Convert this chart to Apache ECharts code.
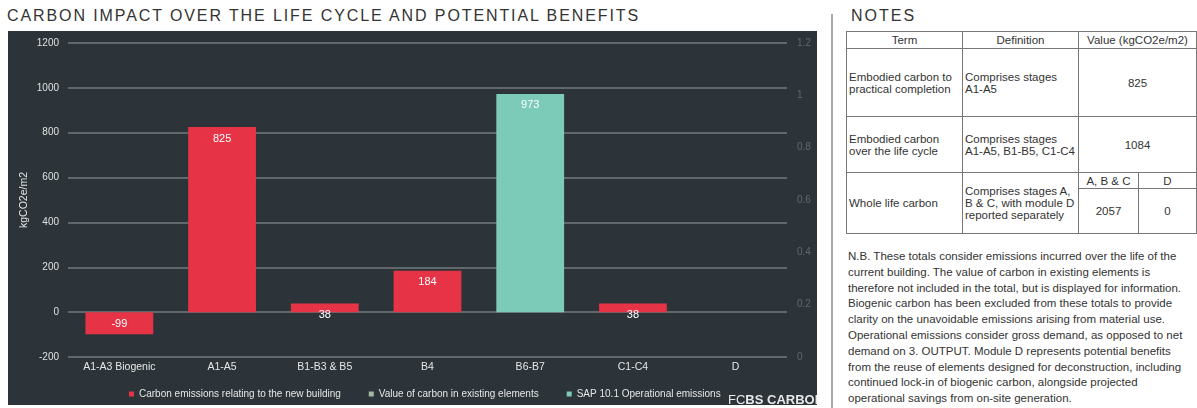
<!DOCTYPE html>
<html>
<head>
<meta charset="utf-8">
<script src="https://cdn.jsdelivr.net/npm/echarts@6/dist/echarts.min.js"></script>
<style>
  body { margin: 0; background: #fff; font-family: Arial, "Liberation Sans", sans-serif; color: #333; }
  #wrap { position: relative; width: 1197px; height: 408px; overflow: hidden; }
  #title { position: absolute; left: 7px; top: 7px; font-size: 16px; letter-spacing: 1.9px; color: #333; white-space: nowrap; }
  #chart { position: absolute; left: 8px; top: 31px; width: 809px; height: 374px; }
  #sep { position: absolute; left: 831px; top: 14px; width: 2px; height: 394px; background: #aaa; }
  #notes-title { position: absolute; left: 851px; top: 7px; font-size: 16px; letter-spacing: 2px; color: #333; }
  #notes { position: absolute; left: 846px; top: 31px; border-collapse: collapse; font-size: 11.5px; color: #333; }
  #notes td { border: 1px solid #777; padding: 0 2px; vertical-align: middle; }
  #nb { position: absolute; left: 848px; top: 249px; font-size: 11.5px; line-height: 15.8px; color: #333; white-space: nowrap; }
</style>
</head>
<body>
<div id="wrap">
  <div id="title">CARBON IMPACT OVER THE LIFE CYCLE AND POTENTIAL BENEFITS</div>
  <div id="chart"></div>
  <div id="sep"></div>
  <div id="notes-title">NOTES</div>
  <table id="notes">
    <tr style="height:17px"><td style="width:111px;text-align:center">Term</td><td style="width:111px;text-align:center">Definition</td><td colspan="2" style="width:112px;text-align:center">Value (kgCO2e/m2)</td></tr>
    <tr style="height:68px"><td>Embodied carbon to<br>practical completion</td><td>Comprises stages<br>A1-A5</td><td colspan="2" style="text-align:center">825</td></tr>
    <tr style="height:56px"><td>Embodied carbon<br>over the life cycle</td><td>Comprises stages<br>A1-A5, B1-B5, C1-C4</td><td colspan="2" style="text-align:center">1084</td></tr>
    <tr style="height:16px"><td rowspan="2">Whole life carbon</td><td rowspan="2">Comprises stages A,<br>B &amp; C, with module D<br>reported separately</td><td style="width:55px;text-align:center">A, B &amp; C</td><td style="width:53px;text-align:center">D</td></tr>
    <tr style="height:45px"><td style="text-align:center">2057</td><td style="text-align:center">0</td></tr>
  </table>
  <div id="nb">N.B. These totals consider emissions incurred over the life of the<br>current building. The value of carbon in existing elements is<br>therefore not included in the total, but is displayed for information.<br>Biogenic carbon has been excluded from these totals to provide<br>clarity on the unavoidable emissions arising from material use.<br>Operational emissions consider gross demand, as opposed to net<br>demand on 3. OUTPUT. Module D represents potential benefits<br>from the reuse of elements designed for deconstruction, including<br>continued lock-in of biogenic carbon, alongside projected<br>operational savings from on-site generation.</div>
</div>
<script>
// 数据
var categories = ['A1-A3 Biogenic', 'A1-A5', 'B1-B3 & B5', 'B4', 'B6-B7', 'C1-C4', 'D'];
var newBuilding = [-99, 825, 38, 184, null, 38, null];
var existingElements = [null, null, null, null, null, null, null];
var operational = [null, null, null, null, 973, null, null];
var seriesNames = ['Carbon emissions relating to the new building', 'Value of carbon in existing elements', 'SAP 10.1 Operational emissions'];

var chart = echarts.init(document.getElementById('chart'));

function barLabel() {
    return {
        show: true,
        position: 'insideTop',
        distance: 6,
        color: '#fff',
        fontSize: 11,
        formatter: function (p) { return p.value; }
    };
}

var option = {
    backgroundColor: '#2c3439',
    animation: false,
    grid: { left: 60, right: 30, top: 12, bottom: 48 },
    legend: {
        data: seriesNames,
        left: 116,
        top: 353,
        icon: 'rect',
        itemWidth: 5,
        itemHeight: 5,
        itemGap: 28,
        textStyle: { color: '#e6e6e6', fontSize: 10 }
    },
    xAxis: {
        type: 'category',
        data: categories,
        axisLine: { show: false },
        axisTick: { show: false },
        axisLabel: { color: '#e6e6e6', fontSize: 10.5, margin: 5, interval: 0 }
    },
    yAxis: [{
        type: 'value',
        min: -200,
        max: 1200,
        interval: 200,
        name: 'kgCO2e/m2',
        nameLocation: 'middle',
        nameGap: 38,
        nameMoveOverlap: false,
        nameTextStyle: { color: '#e6e6e6', fontSize: 10.5 },
        axisLine: { show: false },
        axisTick: { show: false },
        axisLabel: { color: '#e0e0e0', fontSize: 10, margin: 9, formatter: function (v) { return String(v); } },
        splitLine: { lineStyle: { color: '#737a7e', width: 1.5 } }
    }, {
        type: 'value',
        min: 0,
        max: 1.2,
        interval: 0.2,
        position: 'right',
        axisLine: { show: false },
        axisTick: { show: false },
        axisLabel: { color: '#5e686d', fontSize: 10, margin: 10 },
        splitLine: { show: false }
    }],
    series: [{
        name: seriesNames[0],
        type: 'bar',
        stack: 'all',
        barWidth: '66%',
        data: newBuilding,
        itemStyle: { color: '#e63446' },
        label: barLabel()
    }, {
        name: seriesNames[1],
        type: 'bar',
        stack: 'all',
        data: existingElements,
        itemStyle: { color: '#a3b8a2' },
        label: barLabel()
    }, {
        name: seriesNames[2],
        type: 'bar',
        stack: 'all',
        data: operational,
        itemStyle: { color: '#7ccbb8' },
        label: barLabel()
    }],
    graphic: [{
        type: 'text',
        left: 720,
        top: 363,
        style: {
            text: '{a|FC}{b|BS CARBON}',
            rich: {
                a: { fill: '#e8e8e8', fontSize: 13, fontFamily: 'Arial' },
                b: { fill: '#e8e8e8', fontSize: 13, fontWeight: 'bold', fontFamily: 'Arial' }
            }
        }
    }]
};

chart.setOption(option);
</script>
</body>
</html>
